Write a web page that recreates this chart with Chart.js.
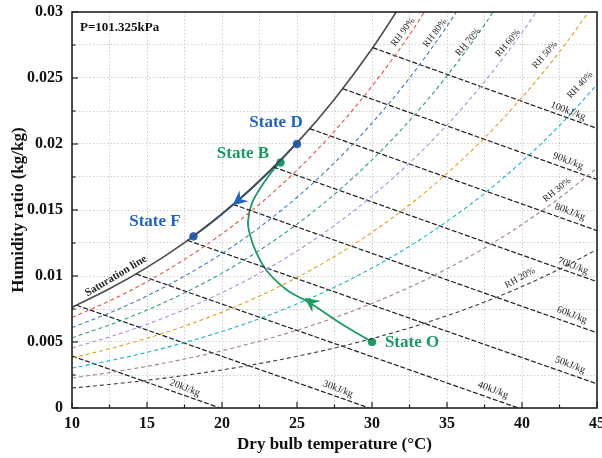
<!DOCTYPE html>
<html><head><meta charset="utf-8">
<script src="https://cdn.jsdelivr.net/npm/chart.js@4.4.1/dist/chart.umd.min.js"></script>
<style>html,body{margin:0;padding:0;background:#fff}</style>
</head><body>
<canvas id="c" width="602" height="458"></canvas>
<script>
// ---------- data ----------
const temps = [10,12.5,15,17.5,20,22.5,25,27.5,30,32.5,35,37.5,40,42.5,45];
const satW = [0.007632,0.009028,0.010650,0.012535,0.014699,0.017203,0.020087,0.023399,0.027212,0.031569];
const rh90 = [0.006861,0.008114,0.009569,0.011259,0.013198,0.015440,0.018020,0.020980,0.024384,0.028268,0.032736];
const rh80 = [0.006091,0.007202,0.008491,0.009988,0.011704,0.013687,0.015967,0.018579,0.021580,0.025001,0.028929,0.033395];
const rh70 = [0.005323,0.006292,0.007417,0.008722,0.010217,0.011943,0.013926,0.016196,0.018801,0.021767,0.025167,0.029026,0.033439];
const rh60 = [0.004557,0.005386,0.006347,0.007461,0.008737,0.010209,0.011899,0.013831,0.016046,0.018564,0.021448,0.024715,0.028444,0.032655];
const rh50 = [0.003793,0.004482,0.005280,0.006205,0.007264,0.008484,0.009884,0.011483,0.013315,0.015394,0.017771,0.020460,0.023524,0.026976,0.030914];
const rh40 = [0.003031,0.003580,0.004217,0.004954,0.005797,0.006769,0.007882,0.009153,0.010606,0.012254,0.014136,0.016261,0.018678,0.021395,0.024488];
const rh30 = [0.002270,0.002681,0.003157,0.003708,0.004338,0.005063,0.005893,0.006840,0.007921,0.009146,0.010542,0.012117,0.013904,0.015910,0.018187];
const rh20 = [0.001512,0.001785,0.002101,0.002467,0.002885,0.003366,0.003916,0.004543,0.005258,0.006067,0.006989,0.008026,0.009201,0.010517,0.012008];
const rhNames = ['RH 20%','RH 30%','RH 40%','RH 50%','RH 60%','RH 70%','RH 80%','RH 90%'];

const enthalpyNames = ['20kJ/kg','30kJ/kg','40kJ/kg','50kJ/kg','60kJ/kg','70kJ/kg','80kJ/kg','90kJ/kg','100kJ/kg'];
const hStartT = [10, 10.31, 14.28, 17.7, 20.75, 23.44, 25.85, 28.05, 30.05];
const hStartW = [0.00394, 0.00778, 0.01015, 0.0127, 0.01542, 0.01825, 0.02116, 0.02419, 0.0273];
const hEndT = [19.88, 29.82, 39.76, 45, 45, 45, 45, 45, 45];
const hEndW = [0, 0, 0, 0.00183, 0.0057, 0.00957, 0.01344, 0.01731, 0.02118];

// process O -> B (green) and D -> F (blue)
const pathOB_T = [30, 27.87, 25.87, 24.33, 23.0, 22.27, 21.87, 21.73, 22.0, 22.73, 23.53, 23.9];
const pathOB_W = [0.0050, 0.00644, 0.00795, 0.00894, 0.01038, 0.01182, 0.01311, 0.01409, 0.01553, 0.01697, 0.01818, 0.0186];
const pathDF_T = [25, 24, 23, 22, 21, 20, 19, 18.1];
const pathDF_W = [0.02009, 0.018882, 0.017745, 0.016673, 0.015656, 0.014699, 0.013791, 0.013023];

const stateNames = ['State D','State B','State F','State O'];
const stateT = [25, 23.9, 18.1, 30];
const stateW = [0.0200, 0.0186, 0.0130, 0.0050];

const xTicksMajor = [10,15,20,25,30,35,40,45];
const yTicksMajor = [0,0.005,0.01,0.015,0.02,0.025,0.03];

// ---------- styling ----------
const SERIF = '"Liberation Serif", "Times New Roman", serif';
const BLUE = '#1f63c9', GREEN = '#1a9a62';
const rhColors = ['#3a3a3a','#a47f88','#17b2cf','#e2a11b','#b58be0','#2e9f77','#3b78d0','#e8504a'];
const rhSeries = [rh20, rh30, rh40, rh50, rh60, rh70, rh80, rh90];

const pts = (ts, ws) => ws.map((w, i) => ({x: ts[i], y: w}));

const datasets = [];
rhSeries.forEach((s, i) => datasets.push({
  label: rhNames[i], data: pts(temps, s), borderColor: rhColors[i], borderWidth: 1.1,
  borderDash: [4, 3], pointRadius: 0, showLine: true, cubicInterpolationMode: 'monotone'
}));
enthalpyNames.forEach((n, i) => datasets.push({
  label: n, data: [{x: hStartT[i], y: hStartW[i]}, {x: hEndT[i], y: hEndW[i]}],
  borderColor: '#1e1e1e', borderWidth: 1.2, borderDash: [5, 2], pointRadius: 0, showLine: true
}));
datasets.push({label: 'Saturation line', data: pts(temps, satW), borderColor: '#4a4a4a', borderWidth: 1.6,
  pointRadius: 0, showLine: true, cubicInterpolationMode: 'monotone'});
datasets.push({label: 'O-B', data: pts(pathOB_T, pathOB_W), borderColor: GREEN, borderWidth: 1.8,
  pointRadius: 0, showLine: true, tension: 0.35});
datasets.push({label: 'D-F', data: pts(pathDF_T, pathDF_W), borderColor: BLUE, borderWidth: 2,
  pointRadius: 0, showLine: true, cubicInterpolationMode: 'monotone'});
const stateColors = [BLUE, GREEN, BLUE, GREEN];
datasets.push({label: 'States', data: pts(stateT, stateW), showLine: false,
  pointRadius: 3.8, pointBackgroundColor: stateColors, pointBorderColor: stateColors, pointBorderWidth: 1});

// text annotations (data coords)
const notes = [
  // [text, t, W, angleDeg, font, color]
  ['20kJ/kg', 17.53, 0.00152, 21, '10px ' + SERIF, '#222'],
  ['30kJ/kg', 27.73, 0.00144, 21, '10px ' + SERIF, '#222'],
  ['40kJ/kg', 38.07, 0.00136, 21, '10px ' + SERIF, '#222'],
  ['50kJ/kg', 43.2, 0.00326, 21, '10px ' + SERIF, '#222'],
  ['60kJ/kg', 43.33, 0.00705, 21, '10px ' + SERIF, '#222'],
  ['70kJ/kg', 43.4, 0.01076, 21, '10px ' + SERIF, '#222'],
  ['80kJ/kg', 43.2, 0.01485, 21, '10px ' + SERIF, '#222'],
  ['90kJ/kg', 43.07, 0.01871, 21, '10px ' + SERIF, '#222'],
  ['100kJ/kg', 43.07, 0.0225, 21, '10px ' + SERIF, '#222'],
  ['RH 90%', 32.07, 0.02848, -53, '9.5px ' + SERIF, '#2a2a2a'],
  ['RH 80%', 34.2, 0.02841, -53, '9.5px ' + SERIF, '#2a2a2a'],
  ['RH 70%', 36.4, 0.02773, -50, '9.5px ' + SERIF, '#2a2a2a'],
  ['RH 60%', 39.07, 0.02765, -50, '9.5px ' + SERIF, '#2a2a2a'],
  ['RH 50%', 41.53, 0.02674, -49, '9.5px ' + SERIF, '#2a2a2a'],
  ['RH 40%', 43.87, 0.02447, -47, '9.5px ' + SERIF, '#2a2a2a'],
  ['RH 30%', 42.33, 0.01652, -39, '9.5px ' + SERIF, '#2a2a2a'],
  ['RH 20%', 39.87, 0.00985, -29, '9.5px ' + SERIF, '#2a2a2a'],
  ['Saturation line', 12.93, 0.0100, -31, 'bold 11px ' + SERIF, '#222'],
  ['State D', 23.6, 0.02159, 0, 'bold 17px ' + SERIF, BLUE],
  ['State B', 21.4, 0.01924, 0, 'bold 17px ' + SERIF, GREEN],
  ['State F', 15.53, 0.01409, 0, 'bold 17px ' + SERIF, BLUE],
  ['State O', 32.67, 0.00492, 0, 'bold 17px ' + SERIF, GREEN]
];
// arrows: [tipT, tipW, fromT, fromW, color]
const arrows = [
  [20.7, 0.01535, 21.6, 0.01620, BLUE],
  [25.5, 0.00836, 27.0, 0.0071, GREEN]
];

const isMajor = (v, step) => Math.abs(v / step - Math.round(v / step)) < 1e-6;

const decor = {
  id: 'decor',
  afterDatasetsDraw(chart) {
    const {ctx, chartArea: a, scales: {x, y}} = chart;
    ctx.save();
    // arrows
    arrows.forEach(([tt, tw, ft, fw, col]) => {
      const px = x.getPixelForValue(tt), py = y.getPixelForValue(tw);
      const qx = x.getPixelForValue(ft), qy = y.getPixelForValue(fw);
      const ang = Math.atan2(py - qy, px - qx);
      ctx.save(); ctx.translate(px, py); ctx.rotate(ang);
      ctx.fillStyle = col; ctx.beginPath();
      ctx.moveTo(0, 0); ctx.lineTo(-15, -7); ctx.lineTo(-10, 0); ctx.lineTo(-15, 7); ctx.closePath(); ctx.fill();
      ctx.restore();
    });
    // texts
    notes.forEach(([txt, t, w, deg, font, col]) => {
      ctx.save();
      ctx.translate(x.getPixelForValue(t), y.getPixelForValue(w));
      ctx.rotate(deg * Math.PI / 180);
      ctx.font = font; ctx.fillStyle = col; ctx.textAlign = 'center'; ctx.textBaseline = 'middle';
      ctx.fillText(txt, 0, 0);
      ctx.restore();
    });
    ctx.font = 'bold 13px ' + SERIF; ctx.fillStyle = '#111'; ctx.textAlign = 'left'; ctx.textBaseline = 'middle';
    ctx.fillText('P=101.325kPa', a.left + 8, a.top + 16);
    // frame
    ctx.strokeStyle = '#222'; ctx.lineWidth = 1.6;
    ctx.strokeRect(a.left, a.top, a.right - a.left, a.bottom - a.top);
    // inward ticks
    ctx.lineWidth = 1.2;
    x.ticks.forEach(tk => {
      const p = x.getPixelForValue(tk.value);
      const L = isMajor(tk.value, 5) ? 6 : 3.5;
      ctx.beginPath(); ctx.moveTo(p, a.bottom); ctx.lineTo(p, a.bottom - L); ctx.stroke();
    });
    y.ticks.forEach(tk => {
      const p = y.getPixelForValue(tk.value);
      const L = isMajor(tk.value, 0.005) ? 6 : 3.5;
      ctx.beginPath(); ctx.moveTo(a.left, p); ctx.lineTo(a.left + L, p); ctx.stroke();
    });
    ctx.restore();
  }
};

new Chart(document.getElementById('c'), {
  type: 'scatter',
  data: {datasets},
  options: {
    responsive: false, animation: false, devicePixelRatio: 1,
    layout: {padding: {top: 12, right: 5, left: 0, bottom: 0}},
    plugins: {legend: {display: false}, tooltip: {enabled: false}},
    scales: {
      x: {
        type: 'linear', min: 10, max: 45,
        afterFit(s) { s.height = 50; s.paddingLeft = 0; s.paddingRight = 0; },
        ticks: {stepSize: 2.5, autoSkip: false, maxRotation: 0, padding: 6, color: '#111',
          font: {family: SERIF, size: 16, weight: 'bold'},
          callback: v => xTicksMajor.some(m => Math.abs(m - v) < 1e-6) ? String(v) : ''},
        grid: {color: '#cfcfcf', lineWidth: 1, drawTicks: false},
        border: {display: false, dash: [1.5, 2]},
        title: {display: true, text: 'Dry bulb temperature (°C)', color: '#111',
          font: {family: SERIF, size: 17, weight: 'bold'}, padding: {top: 0, bottom: 3}}
      },
      y: {
        type: 'linear', min: 0, max: 0.03,
        afterFit(s) { s.width = 72; s.paddingTop = 0; s.paddingBottom = 0; },
        ticks: {stepSize: 0.0025, autoSkip: false, padding: 9, color: '#111',
          font: {family: SERIF, size: 16, weight: 'bold'},
          callback: v => { const m = yTicksMajor.find(t => Math.abs(t - v) < 1e-9); return m === undefined ? '' : String(m); }},
        grid: {color: '#cfcfcf', lineWidth: 1, drawTicks: false},
        border: {display: false, dash: [1.5, 2]},
        title: {display: true, text: 'Humidity ratio (kg/kg)', color: '#111',
          font: {family: SERIF, size: 17, weight: 'bold'}, padding: {top: 8, bottom: 0}}
      }
    }
  },
  plugins: [decor]
});
</script>
</body></html>
